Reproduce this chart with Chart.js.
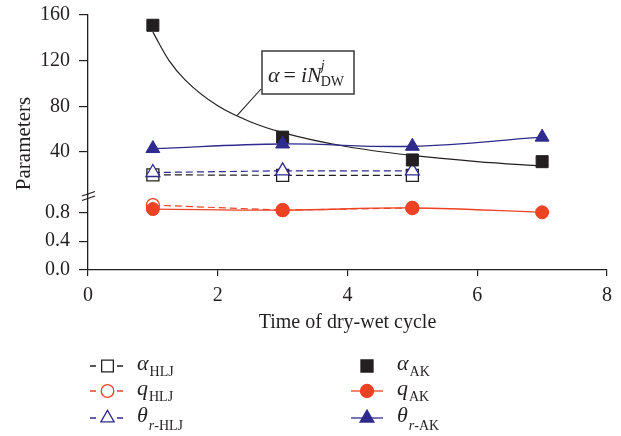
<!DOCTYPE html>
<html>
<head>
<meta charset="utf-8">
<script src="https://cdn.jsdelivr.net/npm/chart.js@4.4.0/dist/chart.umd.min.js"></script>
<style>
  html, body { margin: 0; padding: 0; background: #fff; }
  canvas { display: block; }
</style>
</head>
<body>
<canvas id="myChart" width="621" height="436"></canvas>
<script>
// dry-wet cycle counts
const cycles = [1, 3, 5, 7];
const cyclesHLJ = [1, 3, 5];

// HLJ soil parameters
const alphaHLJ = [20, 19.5, 19.5];
const thetaHLJ = [22, 23.5, 23.5];
const qHLJ = [0.9, 0.83, 0.86];

// AK soil parameters
const alphaAK = [151, 53, 33, 31.5];
const thetaAK = [43, 47, 45, 53];
const qAK = [0.845, 0.83, 0.86, 0.8];

// fitted curve alpha = i*N^j, sampled along the drawn curve
const fitX = [1, 1.25, 1.5, 2, 2.5, 3, 4, 5, 6, 7];
const fitY = [145, 120, 103, 80.4, 66.5, 57, 44.6, 37, 31.6, 27.7];

const xTicks = [0, 2, 4, 6, 8];
const highTicks = [40, 80, 120, 160];
const lowTicks = [0, 0.4, 0.8];

const BLACK = '#231f20';
const NAVY = '#2f2a8d';
const RED = '#ee4225';
const FONT = '"Liberation Serif", "Times New Roman", serif';

function pts(xs, ys) {
    return xs.map((x, i) => ({ x: x, y: ys[i] }));
}

function marker(ctx, style, x, y, r, fill, stroke) {
    ctx.beginPath();
    if (style === 'rect') {
        const s = r * Math.SQRT1_2;
        ctx.rect(x - s, y - s, 2 * s, 2 * s);
    } else if (style === 'circle') {
        ctx.arc(x, y, r, 0, Math.PI * 2);
    } else {
        ctx.moveTo(x, y - r);
        ctx.lineTo(x + Math.sin(Math.PI / 3) * r, y + r / 2);
        ctx.lineTo(x - Math.sin(Math.PI / 3) * r, y + r / 2);
        ctx.closePath();
    }
    ctx.fillStyle = fill;
    ctx.fill();
    ctx.lineWidth = 1.3;
    ctx.strokeStyle = stroke;
    ctx.stroke();
}

// draws pieces of text one after another (italic / sub / superscript)
function richText(ctx, x, y, parts) {
    parts.forEach(p => {
        ctx.font = (p.i ? 'italic ' : '') + p.s + 'px ' + FONT;
        ctx.fillText(p.t, x, y + (p.dy || 0));
        if (!p.keep) x += ctx.measureText(p.t).width + (p.gap || 0);
    });
}

const decor = {
    id: 'decor',
    afterDraw(chart) {
        const ctx = chart.ctx;
        const ca = chart.chartArea;
        const xs = chart.scales.x, yh = chart.scales.yHigh, yl = chart.scales.yLow;

        ctx.save();
        ctx.fillStyle = BLACK;
        ctx.textBaseline = 'alphabetic';

        // y axis title spanning both parts
        ctx.save();
        ctx.font = '21px ' + FONT;
        ctx.translate(24, (ca.top + ca.bottom) / 2 + 1);
        ctx.rotate(-Math.PI / 2);
        ctx.textAlign = 'center';
        ctx.textBaseline = 'middle';
        ctx.fillText('Parameters', 0, 0);
        ctx.restore();

        // axis break marks
        const by = yl.top;
        ctx.strokeStyle = BLACK;
        ctx.lineWidth = 1.2;
        [0, 4.5].forEach(d => {
            ctx.beginPath();
            ctx.moveTo(ca.left - 6, by + d + 1);
            ctx.lineTo(ca.left + 7, by + d - 3.5);
            ctx.stroke();
        });

        // fit equation box with leader line
        const bx = ca.left + 174, bt = ca.top + 36, bw = 92, bh = 43;
        ctx.strokeStyle = '#3a3a3a';
        ctx.lineWidth = 1.5;
        ctx.strokeRect(bx, bt, bw, bh);
        ctx.lineWidth = 1.1;
        ctx.strokeStyle = BLACK;
        ctx.beginPath();
        ctx.moveTo(bx - 1, bt + 38);
        ctx.lineTo(xs.getPixelForValue(2.3), yh.getPixelForValue(72));
        ctx.stroke();
        ctx.fillStyle = BLACK;
        richText(ctx, bx + 6, bt + 31, [
            { t: '\u03b1', i: true, s: 22, gap: 4 },
            { t: '=', s: 22, gap: 5 },
            { t: 'iN', i: true, s: 22, gap: -1 },
            { t: 'j', i: true, s: 14, dy: -12, keep: true },
            { t: 'DW', s: 14, dy: 4 }
        ]);

        // legend, two columns
        const rows = [366, 391, 418];
        const left = [
            { style: 'rect', r: 8.3, c: BLACK, main: '\u03b1', sub: [{ t: 'HLJ', s: 14 }] },
            { style: 'circle', r: 6.3, c: RED, main: 'q', sub: [{ t: 'HLJ', s: 14 }] },
            { style: 'triangle', r: 7.7, c: NAVY, main: '\u03b8', sub: [{ t: 'r', i: true, s: 14 }, { t: '-HLJ', s: 14 }] }
        ];
        const right = [
            { style: 'rect', r: 8.5, c: BLACK, main: '\u03b1', sub: [{ t: 'AK', s: 14 }], noLine: true },
            { style: 'circle', r: 6.5, c: RED, main: 'q', sub: [{ t: 'AK', s: 14 }] },
            { style: 'triangle', r: 8, c: NAVY, main: '\u03b8', sub: [{ t: 'r', i: true, s: 14 }, { t: '-AK', s: 14 }] }
        ];
        const label = (e, x, y) => {
            ctx.fillStyle = BLACK;
            const dy = e.main === '\u03b8' ? 8 : 6;
            richText(ctx, x, y + 3.5, [{ t: e.main, i: true, s: 22, gap: 1 }]
                .concat(e.sub.map(p => Object.assign({ dy: dy }, p))));
        };
        left.forEach((e, k) => {
            const y = rows[k];
            ctx.strokeStyle = e.c;
            ctx.lineWidth = 1.3;
            ctx.beginPath();
            ctx.moveTo(90, y); ctx.lineTo(96, y);
            ctx.moveTo(117, y); ctx.lineTo(123, y);
            ctx.stroke();
            marker(ctx, e.style, 107.5, y, e.r, '#fff', e.c);
            label(e, 137, y);
        });
        right.forEach((e, k) => {
            const y = rows[k];
            if (!e.noLine) {
                ctx.strokeStyle = e.c;
                ctx.lineWidth = 1.3;
                ctx.beginPath();
                ctx.moveTo(351, y); ctx.lineTo(383, y);
                ctx.stroke();
            }
            marker(ctx, e.style, 367, y, e.r, e.c, e.c);
            label(e, 397, y);
        });

        ctx.restore();
    }
};

const axisGrid = { drawOnChartArea: false, color: BLACK, lineWidth: 1.2 };
const axisBorder = { color: BLACK, width: 1.3 };
const tickFont = { family: FONT, size: 20 };

// let the layout padding alone decide the plot edges
function fitLeftAxis(s) {
    s.width = 88;
    s.paddingTop = 0;
    s.paddingBottom = 0;
}

const ctx = document.getElementById('myChart').getContext('2d');
const chart = new Chart(ctx, {
    type: 'line',
    data: {
        datasets: [
            {
                label: 'alpha HLJ', data: pts(cyclesHLJ, alphaHLJ), yAxisID: 'yHigh',
                borderColor: BLACK, borderWidth: 1.2, borderDash: [7, 4],
                pointStyle: 'rect', pointRadius: 8.5, pointBackgroundColor: '#fff',
                pointBorderColor: BLACK, pointBorderWidth: 1.3, order: 7
            },
            {
                label: 'theta HLJ', data: pts(cyclesHLJ, thetaHLJ), yAxisID: 'yHigh',
                borderColor: NAVY, borderWidth: 1.2, borderDash: [7, 4],
                pointStyle: 'triangle', pointRadius: 8, pointBackgroundColor: '#fff',
                pointBorderColor: NAVY, pointBorderWidth: 1.3, order: 6
            },
            {
                label: 'q HLJ', data: pts(cyclesHLJ, qHLJ), yAxisID: 'yLow',
                borderColor: RED, borderWidth: 1.2, borderDash: [7, 4],
                pointStyle: 'circle', pointRadius: 6.5, pointBackgroundColor: '#fff',
                pointBorderColor: RED, pointBorderWidth: 1.3, order: 5
            },
            {
                label: 'fit', data: pts(fitX, fitY), yAxisID: 'yHigh',
                borderColor: BLACK, borderWidth: 1.2, pointRadius: 0,
                cubicInterpolationMode: 'monotone', order: 4
            },
            {
                label: 'alpha AK', data: pts(cycles, alphaAK), yAxisID: 'yHigh',
                showLine: false, pointStyle: 'rect', pointRadius: 8.5,
                pointBackgroundColor: BLACK, pointBorderColor: BLACK, pointBorderWidth: 1, order: 3
            },
            {
                label: 'theta AK', data: pts(cycles, thetaAK), yAxisID: 'yHigh',
                borderColor: NAVY, borderWidth: 1.3, tension: 0.4,
                pointStyle: 'triangle', pointRadius: 8, pointBackgroundColor: NAVY,
                pointBorderColor: NAVY, pointBorderWidth: 1, order: 2
            },
            {
                label: 'q AK', data: pts(cycles, qAK), yAxisID: 'yLow',
                borderColor: RED, borderWidth: 1.3, tension: 0.4,
                pointStyle: 'circle', pointRadius: 6.5, pointBackgroundColor: RED,
                pointBorderColor: RED, pointBorderWidth: 1, order: 1
            }
        ].map(d => Object.assign({ clip: false, fill: false }, d))
    },
    options: {
        responsive: false,
        animation: false,
        events: [],
        layout: { padding: { left: 0, right: 14, top: 15, bottom: 100 } },
        plugins: { legend: { display: false }, tooltip: { enabled: false } },
        scales: {
            x: {
                type: 'linear', min: 0, max: 8,
                afterBuildTicks: s => { s.ticks = xTicks.map(v => ({ value: v })); },
                afterFit: s => { s.height = 66; },
                ticks: { font: tickFont, color: BLACK, padding: 8 },
                grid: Object.assign({ tickLength: 6 }, axisGrid),
                border: axisBorder,
                title: { display: true, text: 'Time of dry-wet cycle', font: tickFont, color: BLACK, padding: { top: 5, bottom: 1 } }
            },
            // lower part of the broken axis (listed first so it sits at the bottom)
            yLow: {
                type: 'linear', position: 'left', stack: 'y', stackWeight: 75,
                min: 0, max: 1.04,
                afterBuildTicks: s => { s.ticks = lowTicks.map(v => ({ value: v })); },
                afterFit: fitLeftAxis,
                ticks: { font: tickFont, color: BLACK, padding: 9, autoSkip: false, callback: v => v.toFixed(1) },
                grid: Object.assign({ tickLength: 9 }, axisGrid),
                border: axisBorder
            },
            yHigh: {
                type: 'linear', position: 'left', stack: 'y', stackWeight: 180,
                min: 2.3, max: 160,
                afterBuildTicks: s => { s.ticks = highTicks.map(v => ({ value: v })); },
                afterFit: fitLeftAxis,
                ticks: { font: tickFont, color: BLACK, padding: 9, autoSkip: false },
                grid: Object.assign({ tickLength: 9 }, axisGrid),
                border: axisBorder
            }
        }
    },
    plugins: [decor]
});
</script>
</body>
</html>
